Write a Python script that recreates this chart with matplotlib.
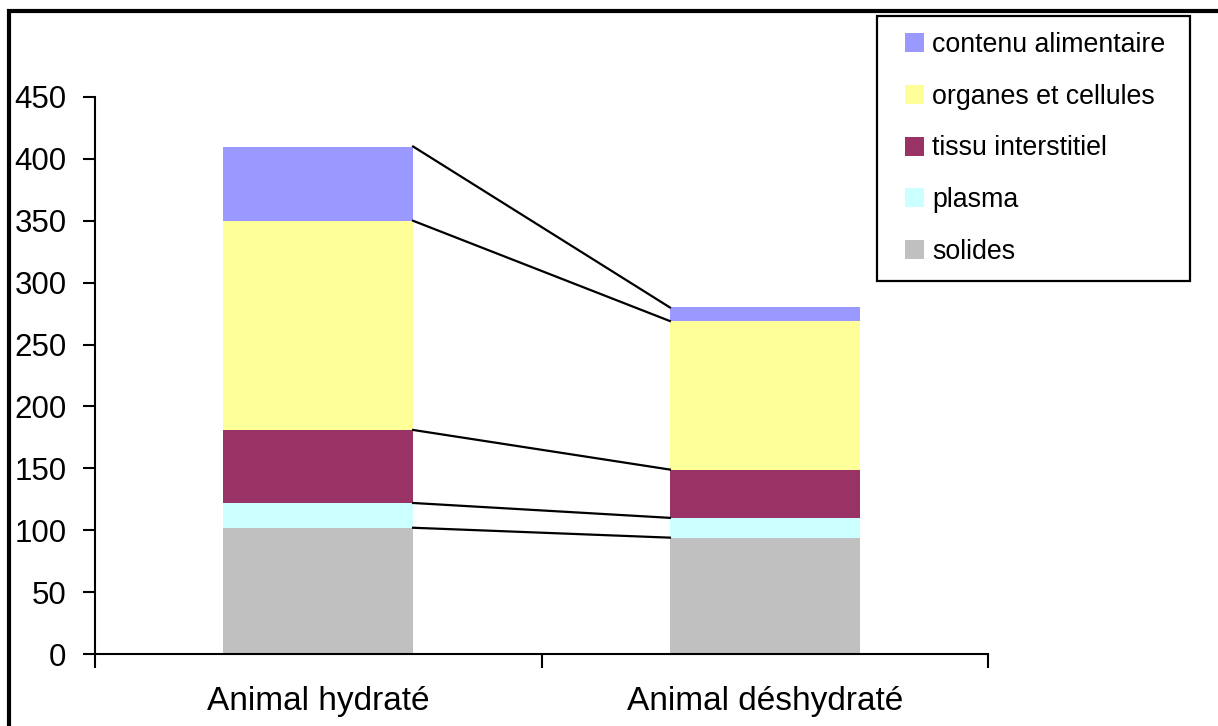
import matplotlib

matplotlib.use("Agg")

import matplotlib.pyplot as plt
from matplotlib.patches import Rectangle
import numpy as np

plt.rcParams["font.family"] = ["Liberation Sans", "DejaVu Sans"]

categories = ["Animal hydraté", "Animal déshydraté"]
components = ["solides", "plasma", "tissu interstitiel", "organes et cellules", "contenu alimentaire"]
solides = [102, 94]
plasma = [20, 16]
tissu = [59, 39]
organes = [169, 120]
contenu = [60, 11]
colors = ["#C0C0C0", "#CCFFFF", "#993366", "#FFFF99", "#9999FF"]

series = [solides, plasma, tissu, organes, contenu]

W, H = 1218, 726
fig = plt.figure(figsize=(W / 100, H / 100), dpi=100)
ax = fig.add_axes([95 / W, 72 / H, 893 / W, 557 / H])

x = np.arange(len(categories))
width = 0.425
bottom = np.zeros(len(categories))
handles = []
for name, values, color in zip(components, series, colors):
    bars = ax.bar(x, values, width, bottom=bottom, color=color, label=name, linewidth=0)
    handles.append(bars)
    bottom = bottom + np.array(values)
    # series line joining the tops of matching segments
    ax.plot([x[0] + width / 2, x[1] - width / 2], [bottom[0], bottom[1]],
            color="black", linewidth=1.6, zorder=3)

ax.set_xlim(-0.5, 1.5)
ax.set_ylim(0, 450)
ax.set_yticks(range(0, 451, 50))
ax.set_xticks(x)
ax.set_xticklabels(categories)
ax.set_xticks([-0.5, 0.5, 1.5], minor=True)
ax.tick_params(axis="x", which="major", length=0, pad=23, labelsize=24)
ax.tick_params(axis="x", which="minor", length=10, width=1.5, direction="out")
ax.tick_params(axis="y", length=8.5, width=1.5, direction="out", labelsize=22.5, pad=12)
ax.spines["top"].set_visible(False)
ax.spines["right"].set_visible(False)
for side in ("left", "bottom"):
    ax.spines[side].set_linewidth(1.5)

leg = fig.legend(handles[::-1], components[::-1], loc="upper left",
                 bbox_to_anchor=(905 / W, 1 - 32 / H), fontsize=19.3,
                 frameon=False, handlelength=0.72, handleheight=0.72,
                 handletextpad=0.3, labelspacing=0.96, borderpad=0,
                 borderaxespad=0)
# legend box drawn separately so its size can be set
fig.patches.append(Rectangle((877 / W, 1 - 281 / H), 313 / W, 265 / H,
                             transform=fig.transFigure, fill=False,
                             edgecolor="black", linewidth=1.6))

# outer chart frame, open to the right and bottom
fig.patches.append(Rectangle((9 / W, -0.1), 1.2, 1.1 - 11 / H,
                             transform=fig.transFigure, fill=False,
                             edgecolor="black", linewidth=3))

fig.savefig("out.png", dpi=100)
